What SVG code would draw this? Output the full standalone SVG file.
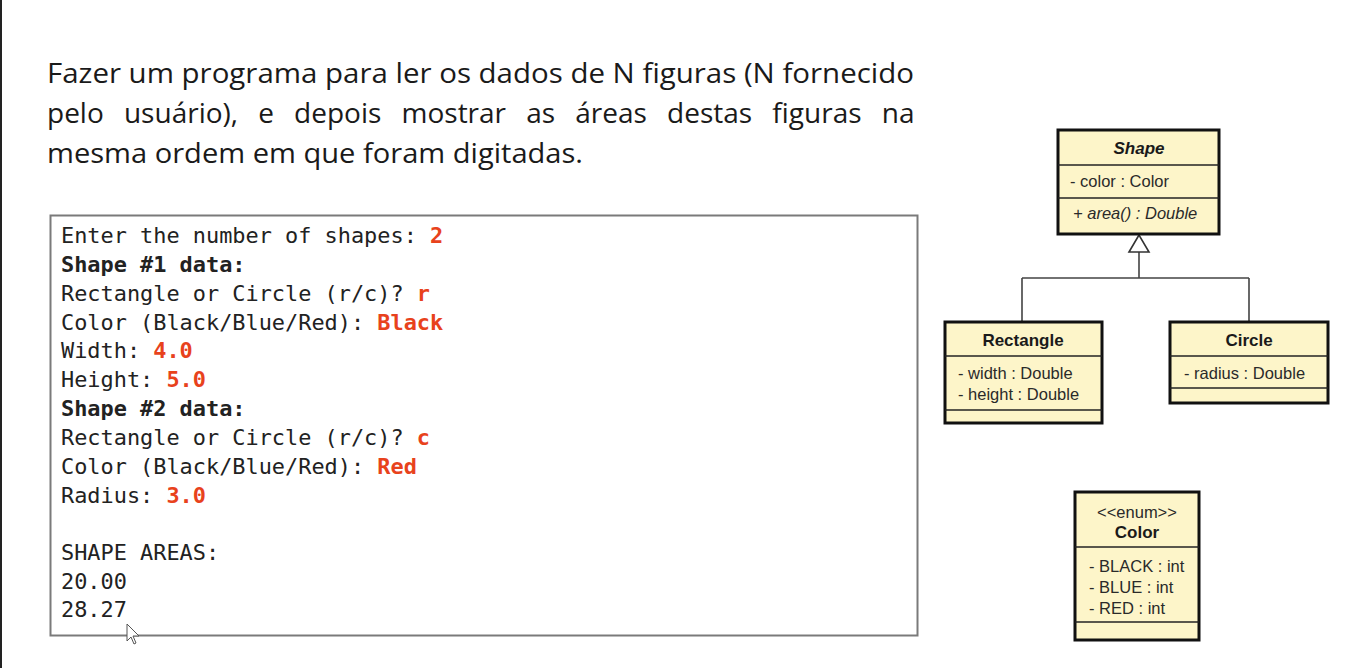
<svg xmlns="http://www.w3.org/2000/svg" width="1356" height="668" viewBox="0 0 1356 668">
<style>
.title{font-family:"Open Sans","Noto Sans",sans-serif;font-size:28px;fill:#1a1a1a}
.mono{font-family:"DejaVu Sans Mono","Liberation Mono",monospace;font-size:21.9px;fill:#222}
.b{font-weight:bold}
.red{fill:#e8421c;font-weight:bold}
.box{fill:#fdf5c9;stroke:#111;stroke-width:3}
.sep{stroke:#222;stroke-width:1.3}
.u{font-family:"Liberation Sans",Arial,sans-serif;font-size:16.5px;fill:#2a2a2a}
.un{font-family:"Liberation Sans",Arial,sans-serif;font-size:17px;font-weight:bold;fill:#1a1a1a;text-anchor:middle}
.conn{stroke:#444;stroke-width:1.6;fill:none}
</style>
<rect x="0" y="0" width="1356" height="668" fill="#ffffff"/>
<rect x="0" y="0" width="2" height="668" fill="#222"/>
<g id="title">
<text class="title" x="47" y="83" textLength="867" lengthAdjust="spacingAndGlyphs">Fazer um programa para ler os dados de N figuras (N fornecido</text>
<text class="title" x="47" y="123" style="word-spacing:12.9px">pelo usuário), e depois mostrar as áreas destas figuras na</text>
<text class="title" x="47" y="163" textLength="536" lengthAdjust="spacingAndGlyphs">mesma ordem em que foram digitadas.</text>
</g>
<g id="console">
<rect x="50.5" y="215.5" width="867" height="420" fill="#fff" stroke="#7a7a7a" stroke-width="2"/>
<text class="mono" x="61" y="243">Enter the number of shapes: <tspan class="red">2</tspan></text>
<text class="mono b" x="61" y="272">Shape #1 data:</text>
<text class="mono" x="61" y="301">Rectangle or Circle (r/c)? <tspan class="red">r</tspan></text>
<text class="mono" x="61" y="330">Color (Black/Blue/Red): <tspan class="red">Black</tspan></text>
<text class="mono" x="61" y="358">Width: <tspan class="red">4.0</tspan></text>
<text class="mono" x="61" y="387">Height: <tspan class="red">5.0</tspan></text>
<text class="mono b" x="61" y="416">Shape #2 data:</text>
<text class="mono" x="61" y="445">Rectangle or Circle (r/c)? <tspan class="red">c</tspan></text>
<text class="mono" x="61" y="474">Color (Black/Blue/Red): <tspan class="red">Red</tspan></text>
<text class="mono" x="61" y="503">Radius: <tspan class="red">3.0</tspan></text>
<text class="mono" x="61" y="560">SHAPE AREAS:</text>
<text class="mono" x="61" y="589">20.00</text>
<text class="mono" x="61" y="617">28.27</text>
<path d="M127,624 L127,641 L131,637 L134,644 L136,643 L133,636 L139,636 Z" fill="#fff" stroke="#555" stroke-width="1"/>
</g>
<g id="connectors">
<path class="conn" d="M1139,252 V278 M1022,278 H1249 M1022,278 V322 M1249,278 V322"/>
<path d="M1139,235 L1129,252 L1149,252 Z" fill="#fff" stroke="#333" stroke-width="1.6"/>
</g>
<g id="node-shape">
<rect class="box" x="1058" y="130" width="161" height="104"/>
<line class="sep" x1="1058" y1="165" x2="1219" y2="165"/>
<line class="sep" x1="1058" y1="198" x2="1219" y2="198"/>
<text class="un" x="1139" y="154" font-style="italic">Shape</text>
<text class="u" x="1070" y="187">- color : Color</text>
<text class="u" x="1073" y="219" font-style="italic">+ area() : Double</text>
</g>
<g id="node-rectangle">
<rect class="box" x="945" y="322" width="157" height="101"/>
<line class="sep" x1="945" y1="356" x2="1102" y2="356"/>
<line class="sep" x1="945" y1="410" x2="1102" y2="410"/>
<text class="un" x="1023" y="346">Rectangle</text>
<text class="u" x="958" y="379">- width : Double</text>
<text class="u" x="958" y="400">- height : Double</text>
</g>
<g id="node-circle">
<rect class="box" x="1170" y="322" width="158" height="81"/>
<line class="sep" x1="1170" y1="356" x2="1328" y2="356"/>
<line class="sep" x1="1170" y1="388" x2="1328" y2="388"/>
<text class="un" x="1249" y="346">Circle</text>
<text class="u" x="1184" y="379">- radius : Double</text>
</g>
<g id="node-color">
<rect class="box" x="1075" y="492" width="124" height="148"/>
<line class="sep" x1="1075" y1="547" x2="1199" y2="547"/>
<line class="sep" x1="1075" y1="622" x2="1199" y2="622"/>
<text class="u" x="1137" y="518" text-anchor="middle" font-size="14">&lt;&lt;enum&gt;&gt;</text>
<text class="un" x="1137" y="538">Color</text>
<text class="u" x="1089" y="572">- BLACK : int</text>
<text class="u" x="1089" y="593">- BLUE : int</text>
<text class="u" x="1089" y="614">- RED : int</text>
</g>
</svg>
